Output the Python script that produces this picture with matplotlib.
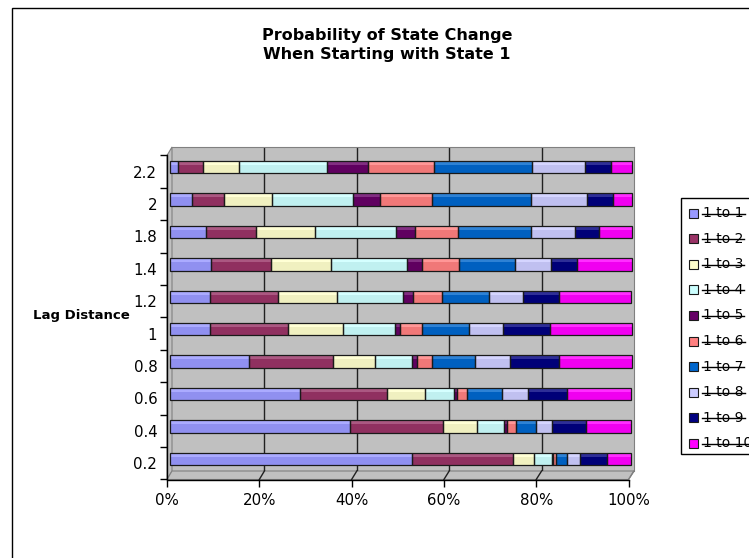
import matplotlib
matplotlib.use('Agg')
import matplotlib.pyplot as plt
from matplotlib.patches import Rectangle, Polygon
from matplotlib.lines import Line2D
from matplotlib.transforms import ScaledTranslation
import numpy as np
import matplotlib.colors as mcolors

plt.rcParams['font.family'] = 'DejaVu Sans'

lags = ['0.2', '0.4', '0.6', '0.8', '1', '1.2', '1.4', '1.8', '2', '2.2']
names = ['1 to 1', '1 to 2', '1 to 3', '1 to 4', '1 to 5',
         '1 to 6', '1 to 7', '1 to 8', '1 to 9', '1 to 10']
colors = ['#9999FF', '#993366', '#FFFFCC', '#CCFFFF', '#660066',
          '#FF8080', '#0066CC', '#CCCCFF', '#000080', '#FF00FF']

# percent of each transition, one value per lag (0.2 ... 2.2)
s1 = [52.4, 39.1, 28.2, 17.1, 8.8, 8.8, 9.0, 7.9, 4.9, 1.9]
s2 = [22.0, 20.2, 18.8, 18.2, 16.9, 14.6, 13.0, 10.9, 7.0, 5.3]
s3 = [4.4, 7.2, 8.2, 9.1, 11.8, 12.8, 12.9, 12.6, 10.3, 7.8]
s4 = [3.9, 5.8, 6.4, 8.0, 11.3, 14.4, 16.6, 17.6, 17.6, 19.0]
s5 = [0.3, 0.7, 0.7, 1.2, 1.1, 2.1, 3.2, 4.2, 5.8, 9.0]
s6 = [0.6, 1.9, 2.0, 3.3, 4.8, 6.2, 8.0, 9.2, 11.3, 14.3]
s7 = [2.5, 4.4, 7.6, 9.2, 10.1, 10.3, 12.0, 15.8, 21.3, 21.1]
s8 = [2.8, 3.4, 5.6, 7.5, 7.3, 7.3, 7.8, 9.6, 12.1, 11.5]
s9 = [5.7, 7.4, 8.6, 10.8, 10.2, 7.9, 5.8, 5.2, 5.7, 5.7]
s10 = [5.4, 9.9, 13.9, 15.6, 17.7, 15.6, 11.7, 7.0, 4.0, 4.4]
series = [s1, s2, s3, s4, s5, s6, s7, s8, s9, s10]

W, H = 749, 558
fig = plt.figure(figsize=(W / 100, H / 100), dpi=100)


def fx(px):
    return px / W


def fy(py):
    return 1 - py / H


def lighten(c, k):
    r, g, b = mcolors.to_rgb(c)
    return (r + (1 - r) * k, g + (1 - g) * k, b + (1 - b) * k)


def darken(c, k):
    r, g, b = mcolors.to_rgb(c)
    return (r * (1 - k), g * (1 - k), b * (1 - k))


# outer chart frame
fig.add_artist(Rectangle((fx(12), fy(570)), fx(800), 562 / H, transform=fig.transFigure,
                         facecolor='white', edgecolor='black', lw=1.0, zorder=-5))

# back wall
ax = fig.add_axes([fx(172), fy(471), 462 / W, 324 / H])
ax.set_xlim(0, 1)
ax.set_ylim(-0.5, 9.5)
ax.set_facecolor('#c0c0c0')
ax.set_xticks([])
ax.set_yticks([])
for side in ['left', 'bottom']:
    ax.spines[side].set_visible(False)
for side in ['top', 'right']:
    ax.spines[side].set_color('#808080')
for v in [0.2, 0.4, 0.6, 0.8]:
    ax.axvline(v, color='#202020', lw=1.0, zorder=1)

# side wall and floor
ft = fig.transFigure
side = Polygon([(fx(172), fy(147)), (fx(172), fy(471)), (fx(167), fy(479.5)), (fx(167), fy(155.5))],
               closed=True, transform=ft, facecolor='#c0c0c0', edgecolor='#808080', lw=0.8,
               clip_on=False, zorder=0.5)
ax.add_patch(side)
floor = Polygon([(fx(172), fy(471)), (fx(634), fy(471)), (fx(628.5), fy(479.5)), (fx(167), fy(479.5))],
                closed=True, transform=ft, facecolor='#c0c0c0', edgecolor='#808080', lw=0.8,
                clip_on=False, zorder=0.5)
ax.add_patch(floor)
for v in [0.2, 0.4, 0.6, 0.8, 1.0]:
    ax.add_line(Line2D([fx(172 + v * 462), fx(167 + v * 461.5)], [fy(471), fy(479.5)],
                       transform=ft, color='#202020' if v < 1 else '#808080', lw=1.0,
                       clip_on=False, zorder=0.6))

# stacked 100% bars, drawn at mid depth
data = np.array(series, dtype=float)
data = data / data.sum(axis=0)
ypos = np.arange(len(lags))
off = ax.transData + ScaledTranslation(-0.025, -0.04, fig.dpi_scale_trans)
bh = 0.385
left = np.zeros(len(lags))
for i, vals in enumerate(data):
    body = ax.barh(ypos, vals, height=bh, left=left, color=darken(colors[i], 0.06),
                   lw=0, zorder=3)
    tops = ax.barh(ypos + bh * 0.5 - bh * 0.16, vals, height=bh * 0.32, left=left,
                   color=lighten(colors[i], 0.18), lw=0, zorder=3.2)
    edges = ax.barh(ypos, vals, height=bh, left=left, facecolor='none',
                    edgecolor='#1a1a1a', lw=0.9, zorder=3.5)
    for p in list(body) + list(tops) + list(edges):
        p.set_transform(off)
        p.set_clip_on(False)
    left = left + vals

# front axes with ticks and labels
axf = fig.add_axes([fx(167), fy(479.5), 461.5 / W, 324 / H])
axf.set_zorder(2)
axf.patch.set_visible(False)
axf.set_xlim(0, 1)
axf.set_ylim(-0.5, 9.5)
for s in ['top', 'right']:
    axf.spines[s].set_visible(False)
for s in ['left', 'bottom']:
    axf.spines[s].set_color('black')
    axf.spines[s].set_linewidth(1.0)
axf.set_xticks(np.arange(0, 1.01, 0.2))
axf.set_xticklabels(['0%', '20%', '40%', '60%', '80%', '100%'], fontsize=10.8)
axf.tick_params(axis='x', direction='out', length=5, width=1, pad=5)
axf.set_yticks(np.arange(-0.5, 10, 1))
axf.set_yticklabels([])
axf.tick_params(axis='y', which='major', direction='out', length=5, width=1)
axf.set_yticks(ypos, minor=True)
axf.set_yticklabels(lags, minor=True, fontsize=10.8)
axf.tick_params(axis='y', which='minor', length=0, pad=7)

fig.text(fx(81.5), fy(316), 'Lag Distance', fontsize=9.5, fontweight='bold',
         ha='center', va='center')

fig.text(fx(387), fy(45), 'Probability of State Change\nWhen Starting with State 1',
         fontsize=11.5, fontweight='bold', ha='center', va='center', linespacing=1.35)

# legend with struck-through labels
fig.add_artist(Rectangle((fx(681), fy(454)), fx(120), 256 / H, transform=ft,
                         facecolor='white', edgecolor='black', lw=1.0, zorder=4))
renderer = fig.canvas.get_renderer()
for i, nm in enumerate(names):
    yy = 213 + i * 25.6
    fig.add_artist(Rectangle((fx(689), fy(yy + 4.5)), 9 / W, 9 / H, transform=ft,
                             facecolor=colors[i], edgecolor='#1a1a1a', lw=0.8, zorder=5))
    t = fig.text(fx(703), fy(yy), nm, fontsize=10, ha='left', va='center', zorder=5)
    bb = t.get_window_extent(renderer)
    fig.add_artist(Line2D([fx(702), bb.x1 / W + 1 / W], [fy(yy + 0.5), fy(yy + 0.5)],
                          transform=ft, color='black', lw=1.0, zorder=6))

fig.savefig('out.png', dpi=100)
